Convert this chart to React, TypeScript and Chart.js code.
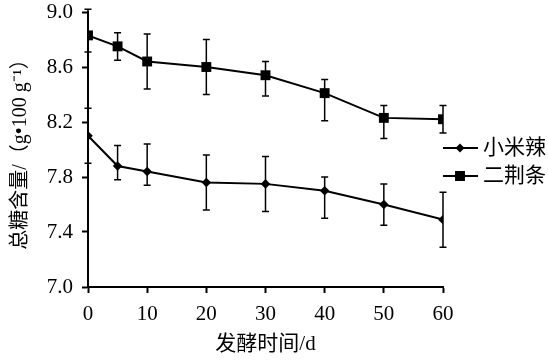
import React, { useEffect, useRef } from "react";
import { Chart, registerables } from "chart.js";

Chart.register(...registerables);

const days = [0, 5, 10, 20, 30, 40, 50, 60];
const seriesNames = ["小米辣", "二荆条"];
const xiaomilaValues = [8.1, 7.88, 7.84, 7.76, 7.75, 7.7, 7.6, 7.49];
const xiaomilaErrUp = [0.2, 0.15, 0.2, 0.2, 0.2, 0.1, 0.15, 0.2];
const xiaomilaErrDown = [0.2, 0.1, 0.1, 0.2, 0.2, 0.2, 0.15, 0.2];
const erjingtiaoValues = [8.83, 8.75, 8.64, 8.6, 8.54, 8.41, 8.23, 8.22];
const erjingtiaoErrUp = [0.19, 0.1, 0.2, 0.2, 0.1, 0.1, 0.09, 0.1];
const erjingtiaoErrDown = [0.12, 0.1, 0.2, 0.2, 0.15, 0.2, 0.15, 0.1];
const yTicks = [7.0, 7.4, 7.8, 8.2, 8.6, 9.0];
const xTicks = [0, 10, 20, 30, 40, 50, 60];
const xTitle = "发酵时间/d";
const yTitle = "总糖含量/（g•100 g⁻¹）";

const FONT = "'Liberation Serif', 'Noto Sans CJK SC', serif";

const errorBarPlugin = {
  id: "errorBars",
  afterDatasetsDraw(chart: any) {
    const ctx = chart.ctx;
    const yScale = chart.scales.y;
    ctx.save();
    ctx.strokeStyle = "#000";
    ctx.lineWidth = 1.5;
    chart.data.datasets.forEach((ds: any, i: number) => {
      const meta = chart.getDatasetMeta(i);
      meta.data.forEach((pt: any, j: number) => {
        const v = ds.data[j].y;
        const up = ds.errUp[j];
        const dn = ds.errDown[j];
        const x = pt.x;
        const y1 = yScale.getPixelForValue(v + up);
        const y2 = yScale.getPixelForValue(v - dn);
        ctx.beginPath();
        ctx.moveTo(x, y1);
        ctx.lineTo(x, y2);
        ctx.moveTo(x - 3.5, y1);
        ctx.lineTo(x + 3.5, y1);
        ctx.moveTo(x - 3.5, y2);
        ctx.lineTo(x + 3.5, y2);
        ctx.stroke();
      });
    });
    ctx.restore();
  },
};

const legendPlugin = {
  id: "customLegend",
  afterDraw(chart: any) {
    const ctx = chart.ctx;
    const x0 = chart.chartArea.right;
    const rows = [148, 176];
    ctx.save();
    chart.data.datasets.forEach((ds: any, i: number) => {
      const y = rows[i];
      ctx.strokeStyle = "#000";
      ctx.lineWidth = 2;
      ctx.beginPath();
      ctx.moveTo(x0, y);
      ctx.lineTo(x0 + 35, y);
      ctx.stroke();
      ctx.fillStyle = "#000";
      const cx = x0 + 17;
      if (ds.pointStyle === "rect") {
        ctx.fillRect(cx - 5, y - 5, 10, 10);
      } else {
        ctx.beginPath();
        ctx.moveTo(cx, y - 4.5);
        ctx.lineTo(cx + 4.5, y);
        ctx.lineTo(cx, y + 4.5);
        ctx.lineTo(cx - 4.5, y);
        ctx.closePath();
        ctx.fill();
      }
      ctx.font = `21px ${FONT}`;
      ctx.textBaseline = "middle";
      ctx.textAlign = "left";
      ctx.fillText(ds.label, x0 + 40, y);
    });
    ctx.restore();
  },
};

export default function App() {
  const ref = useRef<HTMLCanvasElement | null>(null);
  useEffect(() => {
    document.body.style.margin = "0";
    const mk = (vals: number[]) => days.map((d, i) => ({ x: d, y: vals[i] }));
    const chart = new Chart(ref.current as HTMLCanvasElement, {
      type: "line",
      data: {
        datasets: [
          {
            label: seriesNames[0],
            data: mk(xiaomilaValues),
            errUp: xiaomilaErrUp,
            errDown: xiaomilaErrDown,
            borderColor: "#000",
            backgroundColor: "#000",
            borderWidth: 2,
            pointStyle: "rectRot",
            pointRadius: 4.8,
            pointBorderWidth: 0,
            tension: 0,
          } as any,
          {
            label: seriesNames[1],
            data: mk(erjingtiaoValues),
            errUp: erjingtiaoErrUp,
            errDown: erjingtiaoErrDown,
            borderColor: "#000",
            backgroundColor: "#000",
            borderWidth: 2,
            pointStyle: "rect",
            pointRadius: 7,
            pointBorderWidth: 0,
            tension: 0,
          } as any,
        ],
      },
      options: {
        animation: false,
        responsive: true,
        maintainAspectRatio: false,
        layout: { padding: { top: 12, right: 105, left: 0, bottom: 0 } },
        plugins: { legend: { display: false }, tooltip: { enabled: false } },
        scales: {
          x: {
            type: "linear",
            min: 0,
            max: 60,
            afterBuildTicks: (s: any) => {
              s.ticks = xTicks.map((v) => ({ value: v }));
            },
            afterFit: (s: any) => {
              s.height = 74;
              s.paddingLeft = 0;
              s.paddingRight = 0;
            },
            ticks: { color: "#000", font: { family: FONT, size: 21 }, padding: 9, maxRotation: 0 },
            border: { color: "#000", width: 2 },
            grid: { drawOnChartArea: false, tickLength: 6, tickColor: "#000", tickWidth: 2 },
            title: { display: true, text: xTitle, color: "#000", font: { family: FONT, size: 21 }, padding: { top: 5 } },
          },
          y: {
            min: 7,
            max: 9,
            afterBuildTicks: (s: any) => {
              s.ticks = yTicks.map((v) => ({ value: v }));
            },
            afterFit: (s: any) => {
              s.width = 88;
              s.paddingTop = 0;
              s.paddingBottom = 0;
            },
            ticks: {
              color: "#000",
              font: { family: FONT, size: 21 },
              padding: 9,
              callback: (v: any) => Number(v).toFixed(1),
            },
            border: { color: "#000", width: 2 },
            grid: { drawOnChartArea: false, tickLength: 6, tickColor: "#000", tickWidth: 2 },
            title: { display: true, text: yTitle, color: "#000", font: { family: FONT, size: 20 }, padding: { top: 9, bottom: 0 } },
          },
        },
      } as any,
      plugins: [errorBarPlugin, legendPlugin],
    });
    return () => chart.destroy();
  }, []);
  return (
    <div style={{ position: "absolute", left: 0, top: 0, width: 548, height: 361 }}>
      <canvas ref={ref} />
    </div>
  );
}
